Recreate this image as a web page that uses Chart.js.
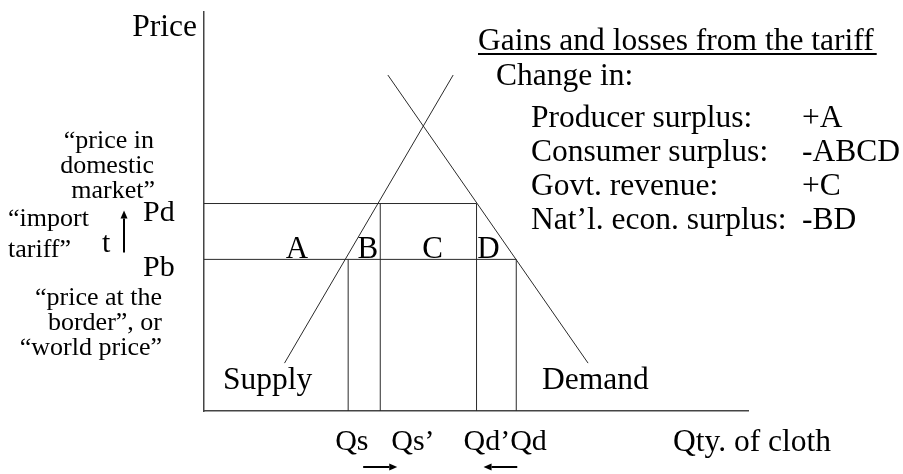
<!DOCTYPE html>
<html>
<head>
<meta charset="utf-8">
<title>Gains and losses from the tariff</title>
<script src="https://cdn.jsdelivr.net/npm/chart.js@4.4.1/dist/chart.umd.min.js"></script>
<style>
  html, body { margin: 0; padding: 0; background: #fff; }
  #wrap { width: 903px; height: 474px; }
</style>
</head>
<body>
<div id="wrap"><canvas id="chart" width="903" height="474"></canvas></div>
<script>
// quantity marks on the x axis and price levels on the y axis (0..100 units)
const qtyLabels = ["Qs", "Qs\u2019", "Qd\u2019", "Qd"];
const qtyValues = [26.5, 32.4, 50.1, 57.4];
const qtyTopPrice = [38, 52, 52, 38];     // each vertical runs up to Pb or Pd

const priceLabels = ["Pb", "Pd"];
const priceValues = [38, 52];
const priceLineEnd = [57.4, 50.1];         // Pb runs to Qd, Pd runs to Qd'

const supplyQty = [14.8, 45.8];
const supplyPrice = [12.0, 84.2];
const demandQty = [33.8, 70.6];
const demandPrice = [84.2, 12.0];

const areaLabels = ["A", "B", "C", "D"];
const areaQty = [17.1, 30.1, 42.0, 52.3];

const tableTitle = "Gains and losses from the tariff";
const tableHead = "Change in:";
const tableRows = ["Producer surplus:", "Consumer surplus:", "Govt. revenue:", "Nat\u2019l. econ. surplus:"];
const tableValues = ["+A", "-ABCD", "+C", "-BD"];

const SERIF = '"Liberation Serif", "Times New Roman", serif';
const INK = "#000";
const LINE = "#2a2a2a";

function seg(x0, y0, x1, y1){
  return { data: [{x: x0, y: y0}, {x: x1, y: y1}], showLine: true, borderColor: LINE,
           borderWidth: 1, pointRadius: 0, fill: false, tension: 0 };
}

const datasets = [];
datasets.push(seg(supplyQty[0], supplyPrice[0], supplyQty[1], supplyPrice[1]));
datasets.push(seg(demandQty[0], demandPrice[0], demandQty[1], demandPrice[1]));
priceValues.forEach((p, i) => datasets.push(seg(0, p, priceLineEnd[i], p)));
qtyValues.forEach((q, i) => datasets.push(seg(q, 0, q, qtyTopPrice[i])));

function text(ctx, s, x, y, size, align){
  ctx.font = size + "px " + SERIF;
  ctx.textAlign = align || "left";
  ctx.textBaseline = "alphabetic";
  ctx.fillText(s, x, y);
}

function arrow(ctx, x0, y0, x1, y1){
  const a = Math.atan2(y1 - y0, x1 - x0), h = 8, w = 3.5;
  ctx.beginPath(); ctx.moveTo(x0, y0); ctx.lineTo(x1 - Math.cos(a) * h, y1 - Math.sin(a) * h); ctx.stroke();
  ctx.beginPath();
  ctx.moveTo(x1, y1);
  ctx.lineTo(x1 - Math.cos(a) * h - Math.sin(a) * w, y1 - Math.sin(a) * h + Math.cos(a) * w);
  ctx.lineTo(x1 - Math.cos(a) * h + Math.sin(a) * w, y1 - Math.sin(a) * h - Math.cos(a) * w);
  ctx.closePath(); ctx.fill();
}

const labelPlugin = {
  id: "diagramLabels",
  afterDraw(chart){
    const ctx = chart.ctx, xs = chart.scales.x, ys = chart.scales.y, area = chart.chartArea;
    ctx.save();
    ctx.fillStyle = INK; ctx.strokeStyle = INK; ctx.lineWidth = 2;

    text(ctx, "Price", area.left - 7, 36, 31.5, "right");

    // left notes around the two price levels
    const pb = ys.getPixelForValue(priceValues[0]);
    const pd = ys.getPixelForValue(priceValues[1]);
    text(ctx, "\u201cprice in", 154, 148, 26, "right");
    text(ctx, "domestic", 154, 173, 26, "right");
    text(ctx, "market\u201d", 155, 198, 26, "right");
    text(ctx, "\u201cimport", 8, 226, 26);
    text(ctx, "tariff\u201d", 8, 257, 26);
    text(ctx, "t", 102, 252, 30);
    arrow(ctx, 124, pb - 7, 124, pd + 7);
    text(ctx, priceLabels[1], 143, pd + 17, 30);
    text(ctx, priceLabels[0], 143, pb + 17, 30);
    text(ctx, "\u201cprice at the", 162, 305, 26, "right");
    text(ctx, "border\u201d, or", 162, 330, 26, "right");
    text(ctx, "\u201cworld price\u201d", 162, 355, 26, "right");

    // area letters sit on the Pb line
    areaLabels.forEach((s, i) => text(ctx, s, xs.getPixelForValue(areaQty[i]), pb - 1, 31, "center"));

    text(ctx, "Supply", 223, 389, 31.5);
    text(ctx, "Demand", 542, 389, 31.5);

    // quantity labels under the axis
    const qy = area.bottom + 39;
    text(ctx, qtyLabels[0], xs.getPixelForValue(qtyValues[0]) - 13, qy, 30);
    text(ctx, qtyLabels[1], xs.getPixelForValue(qtyValues[1]) + 11, qy, 30);
    text(ctx, qtyLabels[2] + qtyLabels[3], xs.getPixelForValue(qtyValues[2]) - 13, qy, 30);
    text(ctx, "Qty. of cloth", 673, 451, 31.5);

    ctx.lineWidth = 2;
    const ay = area.bottom + 56;
    arrow(ctx, xs.getPixelForValue(qtyValues[0]) + 15, ay, xs.getPixelForValue(qtyValues[1]) + 17, ay);
    arrow(ctx, xs.getPixelForValue(qtyValues[3]) + 1, ay, xs.getPixelForValue(qtyValues[2]) + 7, ay);

    // table of gains and losses
    text(ctx, tableTitle, 478, 50, 31.5);
    ctx.fillRect(478, 53, ctx.measureText(tableTitle).width + 3, 2);
    text(ctx, tableHead, 496, 85, 31.5);
    tableRows.forEach((r, i) => {
      const y = 127 + i * 34;
      text(ctx, r, 531, y, 31.5);
      text(ctx, tableValues[i], 802, y, 31.5);
    });
    ctx.restore();
  }
};

new Chart(document.getElementById("chart"), {
  type: "scatter",
  data: { datasets },
  options: {
    responsive: false,
    animation: false,
    devicePixelRatio: 1,
    layout: { padding: { left: 204, right: 155, top: 12, bottom: 63 } },
    plugins: { legend: { display: false }, tooltip: { enabled: false } },
    scales: {
      x: { type: "linear", min: 0, max: 100, ticks: { display: false },
           grid: { display: false, drawTicks: false }, border: { display: true, color: "#444", width: 1.5 } },
      y: { type: "linear", min: 0, max: 100, ticks: { display: false },
           grid: { display: false, drawTicks: false }, border: { display: true, color: "#444", width: 1.5 } }
    }
  },
  plugins: [labelPlugin]
});
</script>
</body>
</html>
